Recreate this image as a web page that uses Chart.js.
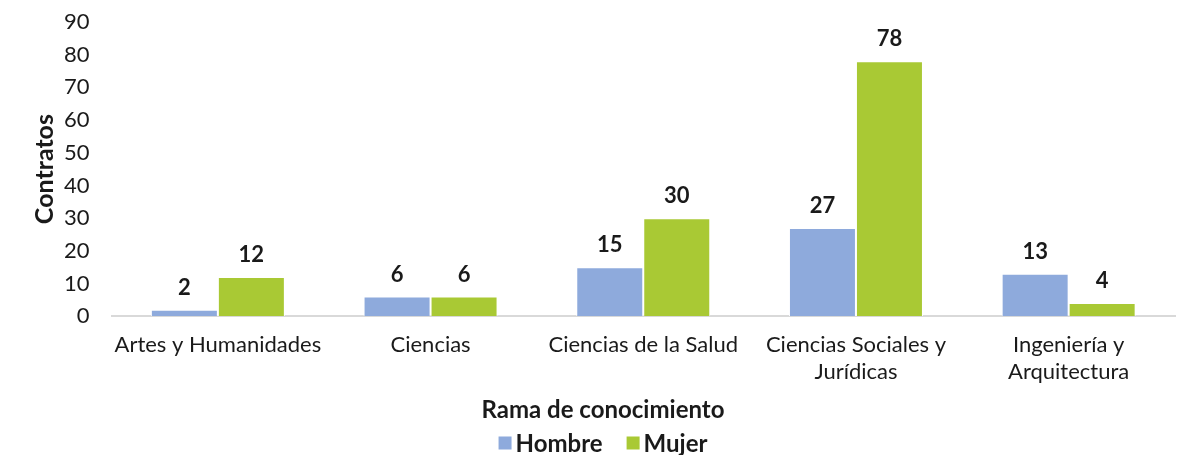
<!DOCTYPE html>
<html>
<head>
<meta charset="utf-8">
<script src="https://cdn.jsdelivr.net/npm/chart.js@4/dist/chart.umd.min.js"></script>
<style>
  html, body { margin: 0; padding: 0; background: #fff; }
  #wrap { width: 1192px; height: 455px; }
</style>
</head>
<body>
<div id="wrap"><canvas id="chart"></canvas></div>
<script>
// Contratos por rama de conocimiento y sexo
const ramas = [
    'Artes y Humanidades',
    'Ciencias',
    'Ciencias de la Salud',
    ['Ciencias Sociales y', 'Jurídicas'],
    ['Ingeniería y', 'Arquitectura']
];
const hombre = [2, 6, 15, 27, 13];
const mujer = [12, 6, 30, 78, 4];
const tituloX = 'Rama de conocimiento';
const tituloY = 'Contratos';

const FONT = 'Lato, "Open Sans", sans-serif';
const TEXT = '#1a1a1a';

// Value labels drawn above each bar
const barLabels = {
    id: 'barLabels',
    afterDatasetsDraw(chart) {
        const ctx = chart.ctx;
        ctx.save();
        ctx.font = 'bold 22px ' + FONT;
        ctx.fillStyle = TEXT;
        ctx.textAlign = 'center';
        ctx.textBaseline = 'bottom';
        chart.data.datasets.forEach((ds, i) => {
            chart.getDatasetMeta(i).data.forEach((bar, j) => {
                ctx.fillText(ds.data[j], bar.x, bar.y - 11);
            });
        });
        ctx.restore();
    }
};

// Axis title and legend under the category labels
const bottomBlock = {
    id: 'bottomBlock',
    afterDraw(chart) {
        const ctx = chart.ctx;
        const cx = 603;
        ctx.save();
        ctx.fillStyle = TEXT;
        ctx.textBaseline = 'middle';

        ctx.font = 'bold 24px ' + FONT;
        ctx.textAlign = 'center';
        ctx.fillText(tituloX, cx, 410);

        // legend entries: square swatch + bold name
        const box = 13, gapText = 4, gapItem = 24, y = 443;
        const items = chart.data.datasets.map(ds => ({
            label: ds.label,
            color: ds.backgroundColor,
            w: ctx.measureText(ds.label).width
        }));
        let total = items.reduce((s, it) => s + box + gapText + it.w, 0) + gapItem * (items.length - 1);
        let x = cx - total / 2;
        ctx.textAlign = 'left';
        items.forEach(it => {
            ctx.fillStyle = it.color;
            ctx.fillRect(x, y - box / 2, box, box);
            x += box + gapText;
            ctx.fillStyle = TEXT;
            ctx.fillText(it.label, x, y + 1);
            x += it.w + gapItem;
        });
        ctx.restore();
    }
};

const ctx = document.getElementById('chart').getContext('2d');
new Chart(ctx, {
    type: 'bar',
    data: {
        labels: ramas,
        datasets: [
            {
                label: 'Hombre',
                data: hombre,
                backgroundColor: '#8eaadc',
                borderColor: '#ffffff',
                borderWidth: 1
            },
            {
                label: 'Mujer',
                data: mujer,
                backgroundColor: '#a9c934',
                borderColor: '#ffffff',
                borderWidth: 1
            }
        ]
    },
    options: {
        responsive: true,
        maintainAspectRatio: false,
        animation: false,
        layout: {
            padding: { top: 22, right: 17, left: 30, bottom: 62 }
        },
        datasets: {
            bar: { categoryPercentage: 0.63, barPercentage: 1.0 }
        },
        plugins: {
            legend: { display: false },
            tooltip: { enabled: false }
        },
        scales: {
            x: {
                grid: { display: false },
                border: { display: true, color: '#d9d9d9', width: 2 },
                ticks: {
                    color: TEXT,
                    padding: 8,
                    maxRotation: 0,
                    autoSkip: false,
                    font: { family: FONT, size: 22, lineHeight: 1.2 }
                }
            },
            y: {
                min: 0,
                max: 90,
                // tickLength keeps labels away from the plot without adding top padding
                grid: { display: false, drawTicks: true, tickLength: 20 },
                border: { display: false },
                ticks: {
                    stepSize: 10,
                    autoSkip: false,
                    color: TEXT,
                    padding: 2,
                    font: { family: FONT, size: 22 }
                },
                title: {
                    display: true,
                    text: tituloY,
                    color: TEXT,
                    padding: { top: 0, bottom: 2 },
                    font: { family: FONT, size: 25, weight: 'bold' }
                }
            }
        }
    },
    plugins: [barLabels, bottomBlock]
});
</script>
</body>
</html>
